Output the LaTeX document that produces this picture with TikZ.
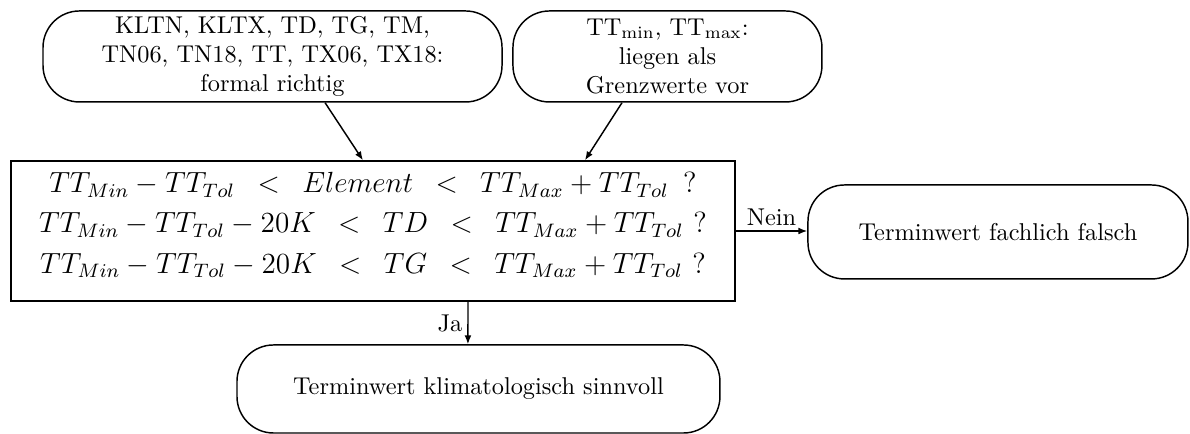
\documentclass[tikz,border=0pt]{standalone}
\usetikzlibrary{arrows.meta}
\tikzset{every node/.style={inner sep=2pt},
  term/.style={draw,rounded corners=15pt,align=center,minimum height=1.315cm},
  testbox/.style={draw,align=center,inner sep=0pt},
  arr/.style={-{Latex[length=3.6pt,width=2.8pt]}}}

\begin{document}
\begin{tikzpicture}[line width=0.6pt]
  \useasboundingbox (0,0) rectangle (17.196,-6.271);

  \node[term,minimum width=6.633cm] (fmt) at (3.938,-0.816)
    {KLTN, KLTX, TD, TG, TM,\\ TN06, TN18, TT, TX06, TX18:\\ formal richtig};
  \node[term,minimum width=4.465cm] (grenz) at (9.645,-0.816)
    {TT$_{\mathrm{min}}$, TT$_{\mathrm{max}}$:\\ liegen als\\ Grenzwerte vor};
  \node[testbox,minimum width=10.462cm,minimum height=2.023cm] (test) at (5.390,-3.338)
    {\large\begin{tabular}{@{}c@{}}
      $TT_{Min}-TT_{Tol}\ \,<\ \,Element\ \,<\ \,TT_{Max}+TT_{Tol}\ \,?$\\[2.5pt]
      $TT_{Min}-TT_{Tol}-20K\ \,<\ \,TD\ \,<\ \,TT_{Max}+TT_{Tol}\ ?$\\[2.5pt]
      $TT_{Min}-TT_{Tol}-20K\ \,<\ \,TG\ \,<\ \,TT_{Max}+TT_{Tol}\ ?$\\[4pt]
    \end{tabular}};
  \node[term,minimum width=5.491cm,minimum height=1.358cm] (falsch) at (14.421,-3.352)
    {Terminwert fachlich falsch};
  \node[term,minimum width=6.979cm,minimum height=1.272cm] (sinnvoll) at (6.914,-5.621)
    {Terminwert klimatologisch sinnvoll};

  \draw[arr] ([xshift=0.759cm]fmt.south) -- ([xshift=-0.145cm]test.north);
  \draw[arr] ([xshift=-0.657cm]grenz.south) -- ([xshift=3.063cm]test.north);
  \draw[arr] (test.east) -- node[above] (nein) {Nein} (test.east -| falsch.west);
  \draw[arr] ([xshift=1.373cm]test.south) -- node[left] (ja) {Ja} ([xshift=-0.152cm]sinnvoll.north);
\end{tikzpicture}
\end{document}
